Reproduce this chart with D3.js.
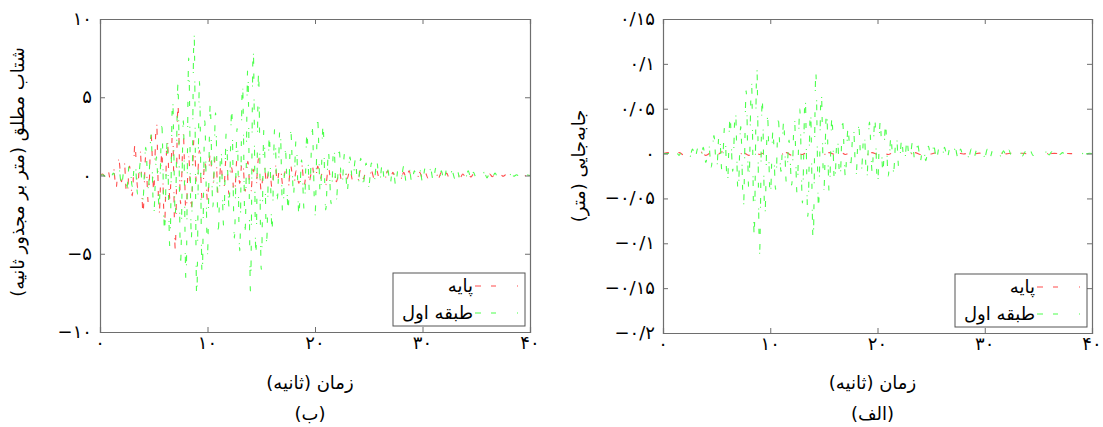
<!DOCTYPE html>
<html><head><meta charset="utf-8">
<script src="https://cdn.jsdelivr.net/npm/d3@7"></script>
<style>body{margin:0;background:#fff} svg{display:block}</style>
</head><body>
<svg id="c" width="1103" height="427"></svg>
<script>
// ---- data ----
const timeStep = 0.25;      // seconds between samples of the main series
const baseDispStep = 0.5;   // seconds between samples of the base displacement
const xTicks = [0, 10, 20, 30, 40];
const accTicks = [-10, -5, 0, 5, 10];
const dispTicks = [-0.2, -0.15, -0.1, -0.05, 0, 0.05, 0.1, 0.15];
const seriesNames = ["پایه", "طبقه اول"];
const xLabel = "زمان (ثانیه)";
const accYLabel = "شتاب مطلق (متر بر مجذور ثانیه)";
const dispYLabel = "جابه‌جایی (متر)";
const captions = ["(ب)", "(الف)"];

const accBase = [
  0, 0.1, -0.1, 0.3, -0.4, 0.5,
  -0.8, 1.0, -0.4, 0.9, -1.5, 0.6, -1.3, 2.0, -0.8, 1.5,
  -2.4, 1.2, -1.8, 2.6, -1.0, 3.6, -2.5, 1.5,
  -3.2, 2.5, -1.5, 2.8, -4.7, 4.5, -1.8, 2.6,
  -2.5, 1.2, -2.0, 2.4, -0.8, 1.6, -1.5, 0.9,
  -1.6, 1.4, -0.6, 1.5, -1.3, 0.7, -1.0, 1.3,
  -1.2, 0.5, -1.4, 1.1, -0.5, 1.2,
  -1.0, 0.9, -1.3, 0.4, -0.8, 1.1, -1.0, 0.8,
  -0.5, 0.7, -0.8, 1.0, -0.4, 0.8, -0.6, 0.3, -0.8, 0.6,
  -0.7, 0.3, -0.5, 0.8, -0.6, 0.5, -0.3, 0.6,
  -0.5, 0.6, -0.2, 0.4, -0.6, 0.5, -0.4, 0.2,
  -0.4, 0.3, -0.4, 0.4, -0.2, 0.4, -0.3, 0.3, -0.3, 0.4, -0.2, 0.3,
  -0.3, 0.3, -0.2, 0.3, -0.3, 0.2, -0.2, 0.3, -0.2, 0.2, -0.3, 0.2, -0.2, 0.2, -0.2, 0.3, -0.2, 0.2, -0.2, 0.2,
  -0.2, 0.2, -0.15, 0.2, -0.2, 0.15, -0.15, 0.2, -0.15, 0.15, -0.2, 0.15, -0.1, 0.15, -0.15, 0.1, -0.1, 0.15, -0.1, 0.1,
  -0.1, 0.1, -0.1, 0.1, -0.08, 0.1, -0.08, 0.08, -0.05, 0.08, -0.05, 0.05, -0.05, 0.05, -0.04, 0.04, -0.03, 0.03, -0.02, 0.02, 0
];
const accFloor1 = [
  0, 0.05, -0.05, 0.1, -0.1, 0.15,
  -0.3, 0.5, -0.6, 0.4, -0.8, 0.9, -0.7, 1.0, -1.2, 0.8,
  -1.5, 1.8, -0.8, 2.6, -2.5, 1.2, -2.0, 3.2,
  -3.5, 2.2, -4.6, 5.0, -2.5, 5.8, -5.5, 3.5,
  -6.8, 7.5, -4.0, 9.2, -7.9, 6.0, -6.5, 3.5,
  -5.0, 4.5, -2.0, 4.0, -3.5, 1.8, -3.2, 2.8,
  -2.0, 4.2, -4.0, 3.0, -4.8, 6.0,
  -3.5, 7.0, -7.4, 8.2, -5.0, 6.5, -6.0, 3.0,
  -4.2, 2.5, -3.5, 3.0, -1.5, 3.2, -2.5, 1.6, -2.2, 2.8,
  -1.2, 2.4, -2.5, 1.0, -2.3, 2.7, -1.2, 3.0,
  -2.6, 3.5, -1.4, 3.2, -2.2, 1.5, -1.8, 2.0,
  -1.5, 1.6, -0.7, 1.4, -1.0, 1.2, -0.5, 1.0, -0.8, 1.1, -0.5, 0.8,
  -0.7, 0.8, -0.4, 0.9, -0.5, 0.7, -0.6, 0.4, -0.5, 0.7, -0.6, 0.5, -0.3, 0.6, -0.5, 0.5, -0.4, 0.3, -0.3, 0.4,
  -0.4, 0.5, -0.2, 0.4, -0.3, 0.5, -0.4, 0.3, -0.3, 0.4, -0.3, 0.3, -0.2, 0.3, -0.3, 0.2, -0.2, 0.3, -0.2, 0.2,
  -0.2, 0.2, -0.15, 0.2, -0.15, 0.15, -0.1, 0.15, -0.1, 0.1, -0.1, 0.1, -0.08, 0.1, -0.05, 0.05, -0.05, 0.05, -0.03, 0.03, 0
];
const dispBase = [
  0, 0.001, -0.001, 0.001, -0.002, 0.002, -0.001, 0.002, -0.002, 0.001,
  -0.002, 0.002, -0.001, 0.002, -0.002, 0.001, -0.002, 0.002, -0.001, 0.001,
  -0.001, 0.002, -0.001, 0.001, -0.002, 0.001, -0.001, 0.002, -0.001, 0.001,
  -0.001, 0.001, -0.001, 0.002, -0.001, 0.001, -0.001, 0.001, -0.001, 0.001,
  -0.001, 0.001, -0.001, 0.001, -0.001, 0.001, -0.0005, 0.001, -0.001, 0.0005,
  -0.0005, 0.001, -0.0005, 0.0005, -0.0005, 0.0005, -0.0005, 0.0005, -0.0005, 0.0005,
  -0.0005, 0.0005, -0.0003, 0.0005, -0.0003, 0.0003, -0.0003, 0.0003, -0.0003, 0.0003,
  -0.0002, 0.0002, -0.0002, 0.0002, -0.0002, 0.0002, -0.0001, 0.0001, -0.0001, 0.0001, 0
];
const dispFloor1 = [
  0, 0, 0, 0.001, -0.001, 0.001,
  -0.002, 0.002, -0.003, 0.003, -0.004, 0.005, -0.004, 0.006, -0.008, 0.007,
  -0.01, 0.012, -0.015, 0.02, -0.018, 0.025, -0.02, 0.03,
  -0.035, 0.04, -0.02, 0.05, -0.045, 0.03, -0.06, 0.07,
  -0.04, 0.08, -0.09, 0.097, -0.112, 0.06, -0.07, 0.04,
  -0.05, 0.025, -0.04, 0.038, -0.02, 0.035, -0.032, 0.015,
  -0.035, 0.04, -0.045, 0.05, -0.055, 0.065,
  -0.07, 0.05, -0.099, 0.09, -0.06, 0.07, -0.04, 0.05,
  -0.045, 0.04, -0.035, 0.02, -0.03, 0.035, -0.025, 0.028, -0.012, 0.03,
  -0.025, 0.03, -0.018, 0.025, -0.03, 0.035, -0.02, 0.038,
  -0.037, 0.035, -0.02, 0.032, -0.025, 0.018, -0.02, 0.022,
  -0.018, 0.015, -0.012, 0.014, -0.01, 0.012, -0.01, 0.01, -0.008, 0.01, -0.008, 0.008,
  -0.007, 0.008, -0.006, 0.007, -0.006, 0.007, -0.005, 0.006, -0.005, 0.006, -0.005, 0.005, -0.004, 0.005, -0.004, 0.005, -0.004, 0.004, -0.003, 0.004,
  -0.004, 0.005, -0.004, 0.004, -0.003, 0.004, -0.003, 0.003, -0.003, 0.004, -0.003, 0.003, -0.002, 0.003, -0.003, 0.002, -0.002, 0.003, -0.002, 0.002,
  -0.002, 0.002, -0.002, 0.002, -0.0015, 0.002, -0.001, 0.0015, -0.001, 0.001, -0.001, 0.001, -0.001, 0.001, -0.0005, 0.0005, -0.0005, 0.0005, -0.0003, 0.0003, 0
];

// ---- styles ----
const colors = ["#ff4d4d", "#4dff4d"];
const dashPattern = "6,10,5,21,1,3";
const axisColor = "#6e6e6e";
const FONT = "'DejaVu Sans', 'Noto Sans', sans-serif";
const FS = 18;

const faDigits = "۰۱۲۳۴۵۶۷۸۹";
function toFa(v) {
  let s = String(+v.toFixed(4));
  let neg = s.startsWith("-");
  if (neg) s = s.slice(1);
  s = s.replace(/[0-9]/g, d => faDigits[+d]).replace(".", "/");
  return (neg ? "\u2212" : "") + s;
}

const svg = d3.select("#c");

function panel(cfg) {
  const x = d3.scaleLinear().domain([0, 40]).range([cfg.x0, cfg.x1]);
  const y = d3.scaleLinear().domain(cfg.yDomain).range([cfg.y1, cfg.y0]);
  const g = svg.append("g");
  const clipId = "clip" + cfg.id;
  svg.append("clipPath").attr("id", clipId).append("rect")
    .attr("x", cfg.x0).attr("y", cfg.y0).attr("width", cfg.x1 - cfg.x0).attr("height", cfg.y1 - cfg.y0);

  // data lines
  cfg.series.forEach((s, i) => {
    const line = d3.line().curve(d3.curveMonotoneX).x((d, k) => x(k * s.step)).y(d => y(d));
    g.append("path").datum(s.values)
      .attr("clip-path", `url(#${clipId})`)
      .attr("d", line)
      .attr("fill", "none")
      .attr("stroke", colors[i])
      .attr("stroke-width", 1.1)
      .attr("stroke-dasharray", dashPattern);
  });

  // axes (inward ticks, mirrored)
  const tickLen = 5;
  const bottom = g.append("g").attr("transform", `translate(0,${cfg.y1})`)
    .call(d3.axisBottom(x).tickValues(xTicks).tickSize(-tickLen).tickFormat(""));
  const top = g.append("g").attr("transform", `translate(0,${cfg.y0})`)
    .call(d3.axisTop(x).tickValues(xTicks).tickSize(-tickLen).tickFormat(""));
  const left = g.append("g").attr("transform", `translate(${cfg.x0},0)`)
    .call(d3.axisLeft(y).tickValues(cfg.yTicks).tickSize(-tickLen).tickFormat(""));
  const right = g.append("g").attr("transform", `translate(${cfg.x1},0)`)
    .call(d3.axisRight(y).tickValues(cfg.yTicks).tickSize(-tickLen).tickFormat(""));
  [bottom, top, left, right].forEach(a => {
    a.selectAll("path.domain").attr("stroke", axisColor).attr("stroke-width", 1.2);
    a.selectAll(".tick line").attr("stroke", axisColor).attr("stroke-width", 1);
  });

  // tick labels
  g.selectAll(".xl").data(xTicks).enter().append("text")
    .attr("x", d => x(d)).attr("y", cfg.y1 + 17)
    .attr("text-anchor", "middle").attr("font-family", FONT).attr("font-size", FS)
    .attr("fill", "#000").text(d => toFa(d));
  g.selectAll(".yl").data(cfg.yTicks).enter().append("text")
    .attr("x", cfg.x0 - 8).attr("y", d => y(d) + 6)
    .attr("text-anchor", "end").attr("font-family", FONT).attr("font-size", FS)
    .attr("fill", "#000").text(d => toFa(d));

  // axis labels
  g.append("text").attr("x", (cfg.x0 + cfg.x1) / 2 - 5).attr("y", 389)
    .attr("text-anchor", "middle").attr("font-family", FONT).attr("font-size", FS)
    .text(xLabel);
  g.append("text").attr("x", (cfg.x0 + cfg.x1) / 2 - 5).attr("y", 420)
    .attr("text-anchor", "middle").attr("font-family", FONT).attr("font-size", FS)
    .text(cfg.caption);
  g.append("text")
    .attr("transform", `translate(${cfg.ylx},${cfg.yly}) rotate(-90)`)
    .attr("text-anchor", "middle").attr("dominant-baseline", "middle")
    .attr("font-family", FONT).attr("font-size", FS)
    .text(cfg.yLabel);

  // legend
  const lx1 = cfg.x1 - 5, lx0 = lx1 - 132, ly0 = cfg.y1 - 59, ly1 = cfg.y1 - 6;
  g.append("rect").attr("x", lx0).attr("y", ly0).attr("width", lx1 - lx0).attr("height", ly1 - ly0)
    .attr("fill", "none").attr("stroke", "#555").attr("stroke-width", 1);
  seriesNames.forEach((name, i) => {
    const yy = ly0 + 13 + i * 27;
    g.append("text").attr("x", lx1 - 52).attr("y", yy + 6)
      .attr("text-anchor", "end").attr("font-family", FONT).attr("font-size", FS)
      .text(name);
    g.append("line").attr("x1", lx1 - 50).attr("x2", lx1 - 4).attr("y1", yy).attr("y2", yy)
      .attr("stroke", colors[i]).attr("stroke-width", 1.1).attr("stroke-dasharray", dashPattern);
  });
}

panel({
  id: "b", x0: 100, x1: 530, y0: 19, y1: 332, yDomain: [-10, 10], yTicks: accTicks,
  series: [{values: accBase, step: timeStep}, {values: accFloor1, step: timeStep}],
  yLabel: accYLabel, ylx: 19, yly: 172, caption: captions[0]
});
panel({
  id: "a", x0: 663, x1: 1092, y0: 19, y1: 333, yDomain: [-0.2, 0.15], yTicks: dispTicks,
  series: [{values: dispBase, step: baseDispStep}, {values: dispFloor1, step: timeStep}],
  yLabel: dispYLabel, ylx: 580, yly: 166, caption: captions[1]
});
</script>
</body></html>
